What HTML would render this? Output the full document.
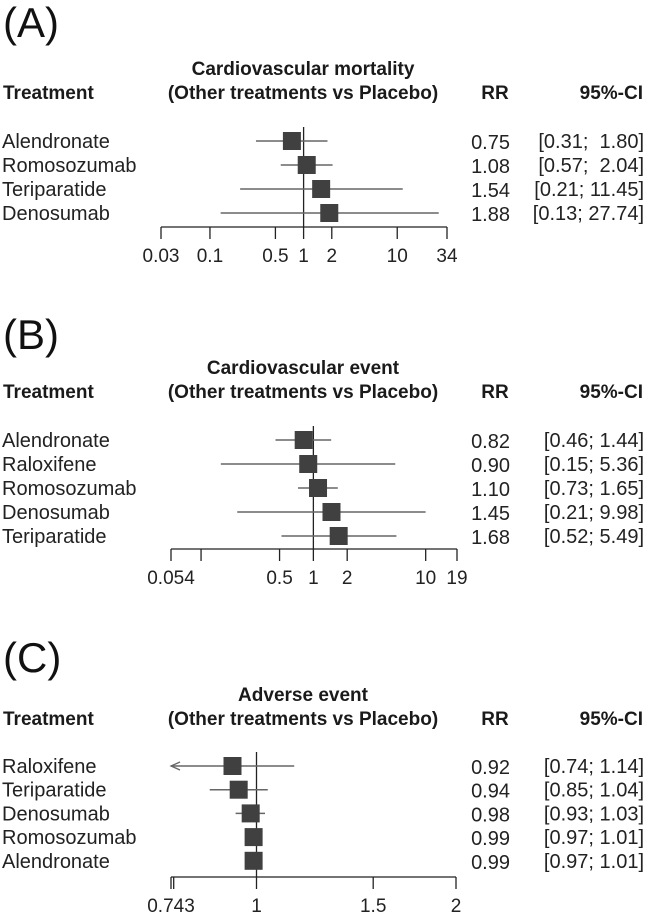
<!DOCTYPE html>
<html><head><meta charset="utf-8"><style>
body{margin:0;background:#fff;}
svg{display:block;font-family:"Liberation Sans",sans-serif;}
</style></head><body>
<svg id="c" width="646" height="919"></svg>
<script>
const aNames=["Alendronate","Romosozumab","Teriparatide","Denosumab"];
const aRR=[0.75,1.08,1.54,1.88];
const aLo=[0.31,0.57,0.21,0.13];
const aHi=[1.80,2.04,11.45,27.74];
const aTicks=[0.03,0.1,0.5,1,2,10,34];
const aTickLabels=["0.03","0.1","0.5","1","2","10","34"];

const bNames=["Alendronate","Raloxifene","Romosozumab","Denosumab","Teriparatide"];
const bRR=[0.82,0.90,1.10,1.45,1.68];
const bLo=[0.46,0.15,0.73,0.21,0.52];
const bHi=[1.44,5.36,1.65,9.98,5.49];
const bTicks=[0.054,0.1,0.5,1,2,10,19];
const bTickLabels=["0.054","","0.5","1","2","10","19"];

const cNames=["Raloxifene","Teriparatide","Denosumab","Romosozumab","Alendronate"];
const cRR=[0.92,0.94,0.98,0.99,0.99];
const cLo=[0.74,0.85,0.93,0.97,0.97];
const cHi=[1.14,1.04,1.03,1.01,1.01];
const cTicks=[0.743,0.75,1,1.5,2];
const cTickLabels=["0.743","","1","1.5","2"];

const svg=document.getElementById('c');
const NS="http://www.w3.org/2000/svg";
function mk(tag,attrs,txt){const e=document.createElementNS(NS,tag);for(const k in attrs)e.setAttribute(k,attrs[k]);if(txt!==undefined)e.textContent=txt;svg.appendChild(e);return e;}
function fmt(v){return v.toFixed(2);}

function panel(o){
  const {letter,title,letterY,titleY,rows0,step,axisY,min,max,names,rr,lo,hi,ticks,tlabels,pad,x0,x1}=o;
  const xs=v=>x0+(Math.log(v)-Math.log(min))/(Math.log(max)-Math.log(min))*(x1-x0);
  let t;
  t=mk('text',{x:3,y:letterY,'font-size':42,fill:'#111'});t.textContent="("+letter+")";
  
  
  t=mk('text',{x:303,y:titleY,'font-size':19,'font-weight':'bold','text-anchor':'middle',fill:'#1a1a1a'},title);
  
  
  t=mk('text',{x:303,y:titleY+24,'font-size':19,'font-weight':'bold','text-anchor':'middle',fill:'#1a1a1a'},"(Other treatments vs Placebo)");
  
  
  t=mk('text',{x:3,y:titleY+24,'font-size':19,'font-weight':'bold',fill:'#1a1a1a'},"Treatment");
  
  
  t=mk('text',{x:495,y:titleY+24,'font-size':19,'font-weight':'bold','text-anchor':'middle',fill:'#1a1a1a'},"RR");
  
  
  t=mk('text',{x:643,y:titleY+24,'font-size':19,'font-weight':'bold','text-anchor':'end',fill:'#1a1a1a'},"95%-CI");
  
  
  let l=mk('line',{x1:xs(1),x2:xs(1),y1:rows0-14,y2:axisY,stroke:'#222','stroke-width':1.3});
  
  
  names.forEach((n,i)=>{
    const y=rows0+i*step;
    let tx=mk('text',{x:2,y:y+7,'font-size':20,fill:'#222'},n);
    
    
    const loC=Math.max(lo[i],min);
    let ci=mk('line',{x1:xs(loC),x2:xs(hi[i]),y1:y,y2:y,stroke:'#666','stroke-width':1.5});
    
    
    if(lo[i]<min){
      let ar=mk('path',{d:`M${xs(min)+9},${y-4} L${xs(min)},${y} L${xs(min)+9},${y+4}`,stroke:'#666',fill:'none','stroke-width':1.3});
      
      
    }
    const s=18;
    let sq=mk('rect',{x:xs(rr[i])-s/2,y:y-s/2,width:s,height:s,fill:'#404040'});
    
    
    let r=mk('text',{x:510,y:y+8,'font-size':20,'text-anchor':'end',fill:'#222'},fmt(rr[i]));
    
    
    let hs=fmt(hi[i]);
    if(pad&&hi[i]<10)hs="\u00a0"+hs;
    let c=mk('text',{x:644,y:y+7,'font-size':20,'text-anchor':'end',fill:'#222'},"["+fmt(lo[i])+"; "+hs+"]");
    
    
  });
  let ax=mk('line',{x1:xs(min),x2:xs(max),y1:axisY,y2:axisY,stroke:'#222','stroke-width':1.3});
  
  
  ticks.forEach((v,i)=>{
    let tk=mk('line',{x1:xs(v),x2:xs(v),y1:axisY,y2:axisY+12,stroke:'#222','stroke-width':1.3});
    
    
    if(tlabels[i]){
      let tl=mk('text',{x:xs(v),y:axisY+35,'font-size':19,'text-anchor':'middle',fill:'#222'},tlabels[i]);
      
      
    }
  });
}
panel({letter:"A",title:"Cardiovascular mortality",letterY:37,titleY:75,rows0:141,step:24,axisY:227,min:0.03,max:34,x0:161,x1:447,names:aNames,rr:aRR,lo:aLo,hi:aHi,ticks:aTicks,tlabels:aTickLabels,pad:true});
panel({letter:"B",title:"Cardiovascular event",letterY:349,titleY:374,rows0:440,step:24,axisY:549,min:0.054,max:19,x0:171,x1:457,names:bNames,rr:bRR,lo:bLo,hi:bHi,ticks:bTicks,tlabels:bTickLabels,pad:false});
panel({letter:"C",title:"Adverse event",letterY:672,titleY:701,rows0:766,step:23.7,axisY:877,min:0.743,max:2,x0:171,x1:456,names:cNames,rr:cRR,lo:cLo,hi:cHi,ticks:cTicks,tlabels:cTickLabels,pad:false});
</script>
</body></html>
